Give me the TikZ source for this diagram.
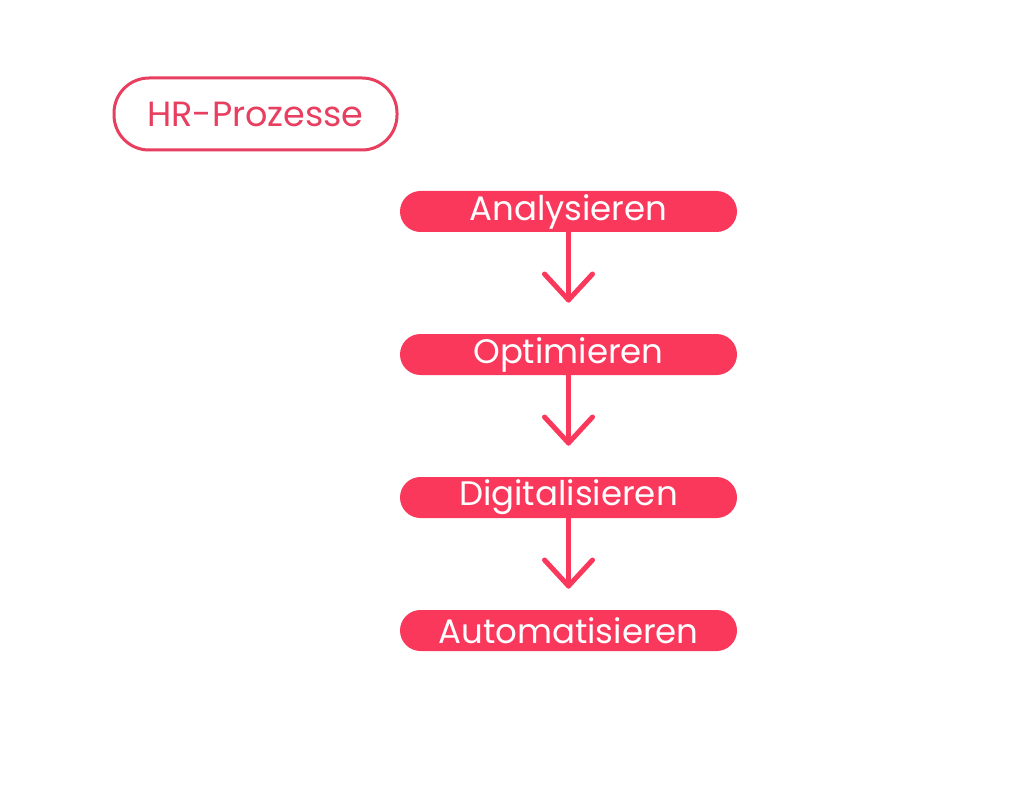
\documentclass[tikz,border=0pt]{standalone}
\usepackage{fontspec}
\setmainfont{Poppins}
\definecolor{pinkfill}{RGB}{250,56,92}
\definecolor{pinkline}{RGB}{232,62,95}
\begin{document}
\begin{tikzpicture}[x=1pt,y=-1pt,
  stepbox/.style={fill=pinkfill,rounded corners=20.5pt,minimum width=337pt,minimum height=41pt,inner sep=0pt,text=white,font=\fontsize{34}{34}\selectfont},
  titlebox/.style={draw=pinkline,line width=3pt,rounded corners=35pt,minimum width=283pt,minimum height=72pt,inner sep=0pt,text=pinkline,font=\fontsize{35}{35}\selectfont},
  flow/.style={draw=pinkfill,line width=5pt,line cap=round,line join=round}]
\useasboundingbox (0,0) rectangle (1024,786);
\fill[white] (0,0) rectangle (1024,786);
\node[titlebox] (hr) at (255.5,114) {HR-Prozesse};
\node[stepbox] (a) at (568.5,211.5) {Analysieren};
\node[stepbox] (o) at (568.5,354.5) {Optimieren};
\node[stepbox] (d) at (568.5,497.5) {Digitalisieren};
\node[stepbox] (u) at (568.5,630.5) {Automatisieren};
\coordinate (t1) at (568.5,300);
\coordinate (t2) at (568.5,443);
\coordinate (t3) at (568.5,586);
\draw[flow] (a.south) -- (t1);
\draw[flow] ([shift={(-24,-26)}]t1) -- (t1) -- ([shift={(24,-26)}]t1);
\draw[flow] (o.south) -- (t2);
\draw[flow] ([shift={(-24,-26)}]t2) -- (t2) -- ([shift={(24,-26)}]t2);
\draw[flow] (d.south) -- (t3);
\draw[flow] ([shift={(-24,-26)}]t3) -- (t3) -- ([shift={(24,-26)}]t3);
\end{tikzpicture}
\end{document}
